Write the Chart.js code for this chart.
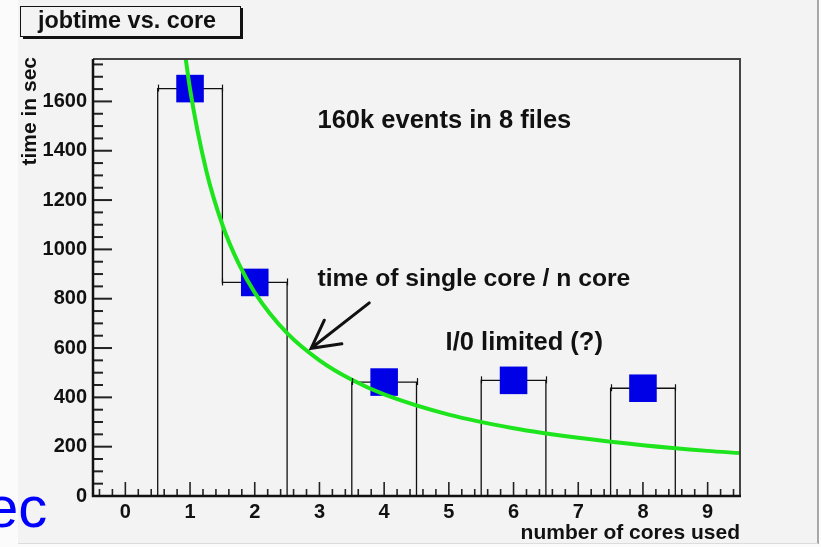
<!DOCTYPE html>
<html>
<head>
<meta charset="utf-8">
<script src="https://cdn.jsdelivr.net/npm/chart.js@4/dist/chart.umd.min.js"></script>
<style>
  html, body { margin: 0; padding: 0; background: #fbfbfb; overflow: hidden; }
  canvas { display: block; }
</style>
</head>
<body>
<canvas id="c" width="821" height="547"></canvas>
<script>
// Measured job time per number of cores
const cores = [1, 2, 4, 6, 8];
const jobTime = [1652, 866, 462, 469, 437];

// "time of single core / n core" reference curve, sampled along its length
const curveCores = [0.85, 1, 1.25, 1.5, 1.75, 2, 2.5, 3, 3.5, 4, 5, 6, 7, 8, 9, 9.5];
const curveTime  = [1940, 1650, 1320, 1100, 943, 825, 660, 550, 471, 412, 330, 275, 236, 206, 183, 174];

// Axis ranges and labelled ticks
const xRange = [-0.5, 9.5];
const yRange = [0, 1772];
const xTickValues = [0, 1, 2, 3, 4, 5, 6, 7, 8, 9];
const yTickValues = [0, 200, 400, 600, 800, 1000, 1200, 1400, 1600];

// Histogram bins of width 1 from 0.5 to 8.5
const binCount = 8;
const binValues = [];
for (let b = 1; b <= binCount; b++) {
  const k = cores.indexOf(b);
  binValues.push(k >= 0 ? jobTime[k] : 0);
}
const histOutline = [{ x: 0.5, y: 0 }];
binValues.forEach((v, i) => {
  histOutline.push({ x: i + 0.5, y: v });
  histOutline.push({ x: i + 1.5, y: v });
});
histOutline.push({ x: binCount + 0.5, y: 0 });

const FONT = '"Liberation Sans", Arial, Helvetica, sans-serif';

// Panel background, page edges and title box
const backdrop = {
  id: 'backdrop',
  beforeDraw(chart) {
    const ctx = chart.ctx;
    ctx.save();
    ctx.fillStyle = '#fbfbfb';
    ctx.fillRect(0, 0, chart.width, chart.height);
    ctx.fillStyle = '#f3f3f3';
    ctx.fillRect(18, 0, 800, 543);
    ctx.fillStyle = '#a8a8a8';
    ctx.fillRect(817, 0, 2, 544);
    ctx.fillStyle = '#dcdcdc';
    ctx.fillRect(18, 543, 800, 1);
    ctx.restore();
  },
  afterDraw(chart) {
    const ctx = chart.ctx;
    ctx.save();
    // title box with drop shadow
    ctx.fillStyle = '#111';
    ctx.fillRect(240, 8, 3, 31);
    ctx.fillRect(23, 36, 220, 3);
    ctx.fillStyle = '#f3f3f3';
    ctx.fillRect(21, 7, 219, 29);
    ctx.strokeStyle = '#111';
    ctx.lineWidth = 1;
    ctx.strokeRect(20.5, 6.5, 220, 30);
    ctx.fillStyle = '#111';
    ctx.font = 'bold 23.4px ' + FONT;
    ctx.textAlign = 'center';
    ctx.textBaseline = 'alphabetic';
    ctx.fillText('jobtime vs. core', 127, 28);

    // stray slide text at lower left
    ctx.fillStyle = '#0000ff';
    ctx.font = '58px ' + FONT;
    ctx.textAlign = 'left';
    ctx.fillText('ec', -14, 527);
    ctx.restore();
  }
};

// ROOT-style frame: inward major/minor ticks, axis lines, axis titles, error caps
const frame = {
  id: 'frame',
  afterDatasetsDraw(chart) {
    const ctx = chart.ctx;
    const a = chart.chartArea;
    const xs = chart.scales.x, ys = chart.scales.y;
    ctx.save();

    // error-bar caps on the bin tops
    ctx.strokeStyle = '#111';
    ctx.lineWidth = 1.2;
    binValues.forEach((v, i) => {
      if (!v) return;
      const py = ys.getPixelForValue(v);
      [i + 0.5, i + 1.5].forEach(e => {
        const px = Math.round(xs.getPixelForValue(e)) + 0.5;
        ctx.beginPath();
        ctx.moveTo(px, py - 4);
        ctx.lineTo(px, py + 3);
        ctx.stroke();
      });
    });

    // frame top/right
    ctx.strokeStyle = '#444';
    ctx.lineWidth = 2;
    ctx.beginPath();
    ctx.moveTo(a.left, a.top);
    ctx.lineTo(a.right, a.top);
    ctx.lineTo(a.right, a.bottom);
    ctx.stroke();

    // x ticks
    ctx.strokeStyle = '#222';
    ctx.lineWidth = 1.6;
    for (let k = -2; k <= 47; k++) {
      const v = k / 5;
      if (v < xRange[0] || v > xRange[1]) continue;
      const major = k % 5 === 0;
      const px = xs.getPixelForValue(v);
      ctx.beginPath();
      ctx.moveTo(px, a.bottom);
      ctx.lineTo(px, a.bottom - (major ? 14 : 7));
      ctx.stroke();
    }
    // y ticks
    ctx.lineWidth = 2;
    for (let v = 0; v <= yRange[1]; v += 50) {
      const major = v % 200 === 0;
      const py = ys.getPixelForValue(v);
      ctx.beginPath();
      ctx.moveTo(a.left, py);
      ctx.lineTo(a.left + (major ? 19 : 10), py);
      ctx.stroke();
    }

    // axis lines
    ctx.strokeStyle = '#111';
    ctx.lineWidth = 2.5;
    ctx.beginPath();
    ctx.moveTo(a.left, a.top);
    ctx.lineTo(a.left, a.bottom);
    ctx.lineTo(a.right + 1, a.bottom);
    ctx.stroke();

    // axis titles
    ctx.fillStyle = '#111';
    ctx.font = 'bold 21px ' + FONT;
    ctx.textAlign = 'right';
    ctx.textBaseline = 'alphabetic';
    ctx.fillText('number of cores used', a.right, 539);
    ctx.save();
    ctx.translate(36, a.top - 2);
    ctx.rotate(-Math.PI / 2);
    ctx.textAlign = 'right';
    ctx.fillText('time in sec', 0, 0);
    ctx.restore();

    // annotations
    ctx.textAlign = 'left';
    ctx.font = 'bold 25.5px ' + FONT;
    ctx.fillText('160k events in 8 files', xs.getPixelForValue(2.97), ys.getPixelForValue(1492));
    ctx.font = 'bold 24.7px ' + FONT;
    ctx.fillText('time of single core / n core', xs.getPixelForValue(2.97), ys.getPixelForValue(852));
    ctx.font = 'bold 25.5px ' + FONT;
    ctx.fillText('I/0 limited (?)', xs.getPixelForValue(4.95), ys.getPixelForValue(592));

    // arrow pointing at the curve
    const tipX = xs.getPixelForValue(2.872), tipY = ys.getPixelForValue(599);
    const tailX = xs.getPixelForValue(3.77), tailY = ys.getPixelForValue(783);
    const ang = Math.atan2(tailY - tipY, tailX - tipX);
    ctx.strokeStyle = '#111';
    ctx.lineWidth = 3;
    ctx.lineCap = 'round';
    ctx.beginPath();
    ctx.moveTo(tailX, tailY);
    ctx.lineTo(tipX, tipY);
    ctx.moveTo(tipX + 31 * Math.cos(ang - 0.47), tipY + 31 * Math.sin(ang - 0.47));
    ctx.lineTo(tipX, tipY);
    ctx.lineTo(tipX + 31 * Math.cos(ang + 0.52), tipY + 31 * Math.sin(ang + 0.52));
    ctx.stroke();

    ctx.restore();
  }
};

new Chart(document.getElementById('c'), {
  type: 'scatter',
  data: {
    datasets: [
      {
        type: 'line',
        label: 'single core / n',
        data: curveCores.map((x, i) => ({ x, y: curveTime[i] })),
        borderColor: '#1de41d',
        borderWidth: 4,
        pointRadius: 0,
        cubicInterpolationMode: 'monotone',
        fill: false,
        clip: 0,
        order: 0
      },
      {
        label: 'jobtime',
        data: cores.map((x, i) => ({ x, y: jobTime[i] })),
        pointStyle: 'rect',
        pointRadius: 19.5,
        backgroundColor: '#0000e6',
        borderWidth: 0,
        order: 1
      },
      {
        type: 'line',
        label: 'histogram',
        data: histOutline,
        borderColor: '#111',
        borderWidth: 1.3,
        pointRadius: 0,
        tension: 0,
        fill: false,
        clip: 0,
        order: 2
      }
    ]
  },
  options: {
    responsive: false,
    animation: false,
    devicePixelRatio: 1,
    layout: { padding: { left: 0, top: 59, right: 81, bottom: 0 } },
    plugins: { legend: { display: false }, tooltip: { enabled: false }, title: { display: false } },
    scales: {
      x: {
        type: 'linear',
        min: xRange[0], max: xRange[1],
        grid: { display: false, drawTicks: false },
        border: { display: false },
        afterBuildTicks: s => { s.ticks = xTickValues.map(v => ({ value: v })); },
        afterFit: s => { s.height = 51; },
        ticks: {
          padding: 4,
          color: '#111',
          font: { family: FONT, size: 20, weight: 'bold' },
          maxRotation: 0,
          autoSkip: false,
          callback: v => String(v)
        }
      },
      y: {
        type: 'linear',
        min: yRange[0], max: yRange[1],
        grid: { display: false, drawTicks: false },
        border: { display: false },
        afterBuildTicks: s => { s.ticks = yTickValues.map(v => ({ value: v })); },
        afterFit: s => { s.width = 93; },
        ticks: {
          padding: 6,
          color: '#111',
          font: { family: FONT, size: 20, weight: 'bold' },
          autoSkip: false,
          callback: v => String(v)
        }
      }
    }
  },
  plugins: [backdrop, frame]
});
</script>
</body>
</html>
